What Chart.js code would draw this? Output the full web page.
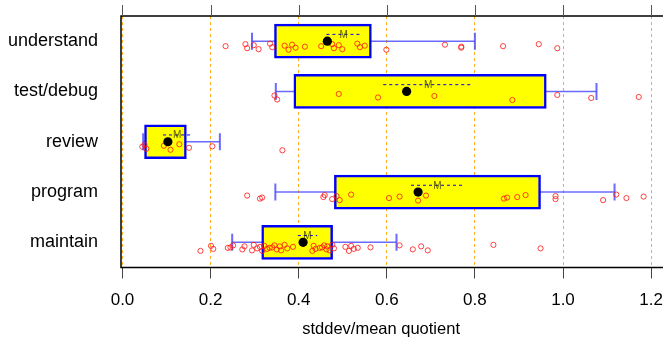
<!DOCTYPE html>
<html>
<head>
<meta charset="utf-8">
<script src="https://cdn.jsdelivr.net/npm/chart.js@4/dist/chart.umd.min.js"></script>
<style>
  html, body { margin: 0; padding: 0; background: #ffffff; overflow: hidden; }
  #wrap { width: 663px; height: 343px; position: relative; }
</style>
</head>
<body>
<div id="wrap"><canvas id="chart"></canvas></div>
<script>
// Activity categories, listed from top to bottom.
const categories = ['understand', 'test/debug', 'review', 'program', 'maintain'];

// Box summary per category: whisker ends, quartiles, median, mean and its standard error.
const whiskerLow  = [0.294, 0.348, 0.047, 0.347, 0.249];
const quartile1   = [0.345, 0.389, 0.050, 0.481, 0.316];
const median      = [0.465, 0.645, 0.103, 0.671, 0.410];
const quartile3   = [0.565, 0.962, 0.145, 0.949, 0.477];
const whiskerHigh = [0.800, 1.076, 0.221, 1.117, 0.622];
const mean        = [0.502, 0.694, 0.124, 0.715, 0.420];
const stdErr      = [0.039, 0.102, 0.032, 0.060, 0.022];

// Individual observations (stddev/mean quotients).
const understandObs = [0.234, 0.279, 0.283, 0.298, 0.309, 0.335, 0.340, 0.368, 0.377, 0.385,
  0.393, 0.414, 0.451, 0.476, 0.480, 0.491, 0.499, 0.533, 0.539, 0.550, 0.599, 0.732,
  0.769, 0.769, 0.864, 0.945, 0.987];
const testDebugObs = [0.345, 0.351, 0.491, 0.580, 0.708, 0.885, 0.987, 1.064, 1.172];
const reviewObs = [0.045, 0.050, 0.054, 0.094, 0.109, 0.129, 0.151, 0.204, 0.363];
const programObs = [0.283, 0.312, 0.317, 0.456, 0.459, 0.476, 0.486, 0.493, 0.519, 0.605,
  0.629, 0.671, 0.689, 0.866, 0.873, 0.896, 0.915, 0.983, 0.983, 1.091, 1.121, 1.144, 1.183];
const maintainObs = [0.177, 0.201, 0.206, 0.239, 0.245, 0.251, 0.272, 0.277, 0.294, 0.298,
  0.306, 0.312, 0.317, 0.322, 0.328, 0.334, 0.340, 0.345, 0.350, 0.357, 0.360, 0.368,
  0.374, 0.387, 0.431, 0.434, 0.438, 0.448, 0.453, 0.458, 0.463, 0.465, 0.470, 0.476,
  0.480, 0.506, 0.514, 0.519, 0.525, 0.534, 0.563, 0.629, 0.659, 0.678, 0.693, 0.842, 0.949];
const observations = [understandObs, testDebugObs, reviewObs, programObs, maintainObs];

// Axis tick values and title.
const xTicks = [0.0, 0.2, 0.4, 0.6, 0.8, 1.0, 1.2];
const xTitle = 'stddev/mean quotient';

// ---- drawing constants ----
const X_MIN = -0.0034, X_MAX = 1.227;
const FONT = '"Liberation Sans", Arial, Helvetica, sans-serif';
const BOX_BLUE = '#0000ff';
const WHISKER = 'rgba(80,80,255,0.85)';
const SE_LIFT = 0.135;                 // dashed mean line sits slightly above the row centre
const JITTER = [0.10, 0.06, 0.14, 0.08, 0.16, 0.05, 0.12, 0.09, 0.17, 0.07, 0.13, 0.11];

const n = categories.length;
const rowOf = i => n - i;             // top category gets the highest row value

const whiskerSets = categories.map((c, i) => ({
  type: 'line',
  data: [{ x: whiskerLow[i], y: rowOf(i) }, { x: whiskerHigh[i], y: rowOf(i) }],
  borderColor: WHISKER, borderWidth: 1.5, pointRadius: 0, order: 10
}));

const capSet = {
  type: 'scatter',
  data: categories.flatMap((c, i) => [
    { x: whiskerLow[i], y: rowOf(i) }, { x: whiskerHigh[i], y: rowOf(i) }]),
  pointStyle: 'line', rotation: 90, radius: 8.5,
  borderColor: WHISKER, borderWidth: 2, order: 9
};

const boxSet = {
  type: 'bar',
  indexAxis: 'y',
  data: categories.map((c, i) => ({ x: [quartile1[i], quartile3[i]], y: rowOf(i) })),
  backgroundColor: '#ffff00', borderColor: BOX_BLUE, borderWidth: 2.5,
  borderSkipped: false, barThickness: 34, order: 8
};

const seSets = categories.map((c, i) => ({
  type: 'line',
  data: [{ x: mean[i] - stdErr[i], y: rowOf(i) + SE_LIFT }, { x: mean[i] + stdErr[i], y: rowOf(i) + SE_LIFT }],
  borderColor: BOX_BLUE, borderWidth: 1, borderDash: [3, 3], pointRadius: 0, order: 7
}));

let k = 0;
const obsSet = {
  type: 'scatter',
  data: observations.flatMap((arr, i) => arr.map(v => ({ x: v, y: rowOf(i) - JITTER[(k++) % JITTER.length] }))),
  pointStyle: 'circle', radius: 2.6, borderWidth: 1,
  borderColor: 'rgba(255,20,20,0.8)', backgroundColor: 'rgba(0,0,0,0)', order: 6
};

const medianSet = {
  type: 'scatter',
  data: categories.map((c, i) => ({ x: median[i], y: rowOf(i) })),
  pointStyle: 'circle', radius: 4.6, borderWidth: 0,
  backgroundColor: '#000000', order: 5
};

// Writes the "M" mean marker on the dashed standard-error line.
const meanMarks = {
  id: 'meanMarks',
  afterDatasetsDraw(chart) {
    const { ctx, scales: { x, y } } = chart;
    ctx.save();
    ctx.font = '10px ' + FONT;
    ctx.fillStyle = 'rgba(40,40,0,0.75)';
    ctx.textAlign = 'center';
    ctx.textBaseline = 'middle';
    categories.forEach((c, i) => {
      ctx.fillText('M', x.getPixelForValue(mean[i]), y.getPixelForValue(rowOf(i) + SE_LIFT) + 0.5);
    });
    ctx.restore();
  }
};

// Plot frame (left, top, bottom), tick marks along the top edge and the x-axis title.
const frame = {
  id: 'frame',
  afterDraw(chart) {
    const { ctx, chartArea: a, scales: { x } } = chart;
    ctx.save();
    ctx.strokeStyle = '#000';
    ctx.lineWidth = 1.5;
    ctx.beginPath();
    ctx.moveTo(chart.width + 2, a.top); ctx.lineTo(a.left, a.top);
    ctx.lineTo(a.left, a.bottom); ctx.lineTo(chart.width + 2, a.bottom);
    ctx.stroke();
    ctx.lineWidth = 1;
    ctx.strokeStyle = '#555';
    ctx.beginPath();
    xTicks.forEach(v => {
      const px = Math.round(x.getPixelForValue(v)) + 0.5;
      ctx.moveTo(px, a.top); ctx.lineTo(px, a.top - 11);
    });
    ctx.stroke();
    ctx.font = '16.5px ' + FONT;
    ctx.fillStyle = '#000';
    ctx.textAlign = 'center';
    ctx.textBaseline = 'middle';
    ctx.fillText(xTitle, x.getPixelForValue(0.587), chart.height - 14);
    ctx.restore();
  }
};

new Chart(document.getElementById('chart'), {
  type: 'bar',
  data: { datasets: [...whiskerSets, capSet, boxSet, ...seSets, obsSet, medianSet] },
  options: {
    responsive: true,
    maintainAspectRatio: false,
    animation: false,
    events: [],
    layout: { autoPadding: false, padding: { top: 16, right: 0, bottom: 0, left: 0 } },
    plugins: { legend: { display: false }, tooltip: { enabled: false } },
    scales: {
      x: {
        type: 'linear', position: 'bottom', min: X_MIN, max: X_MAX, offset: false,
        bounds: 'data',
        afterBuildTicks: s => { s.ticks = xTicks.map(v => ({ value: v })); },
        afterFit: s => { s.height = 75.5; s.paddingLeft = 0; s.paddingRight = 0; },
        ticks: {
          callback: v => Number(v).toFixed(1), includeBounds: false,
          font: { family: FONT, size: 17 }, color: '#000', padding: 12, maxRotation: 0
        },
        grid: {
          color: 'rgba(255,165,0,0.9)', lineWidth: 1, drawTicks: true, offset: false,
          tickLength: 11, tickColor: '#444', tickWidth: 1, tickBorderDash: []
        },
        border: { display: false, dash: [3, 3] },
        title: { display: false }
      },
      y: {
        type: 'linear', position: 'left', min: 0.5, max: n + 0.5, offset: false,
        afterBuildTicks: s => { s.ticks = categories.map((c, i) => ({ value: rowOf(i) })); },
        afterFit: s => { s.width = 121; s.paddingTop = 0; s.paddingBottom = 0; },
        ticks: {
          callback: v => categories[n - Math.round(v)],
          font: { family: FONT, size: 18 }, color: '#000', padding: 23
        },
        grid: { display: false, drawTicks: false, offset: false },
        border: { display: false }
      }
    }
  },
  plugins: [meanMarks, frame]
});
</script>
</body>
</html>
